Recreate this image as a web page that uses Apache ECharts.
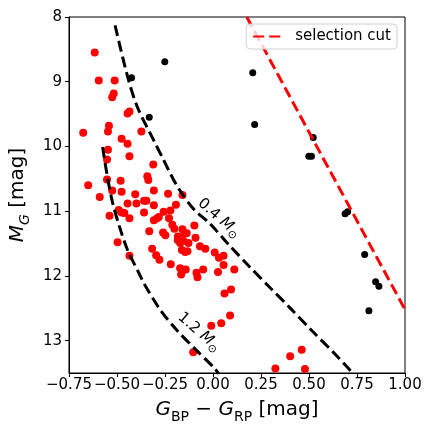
<!DOCTYPE html>
<html>
<head>
<meta charset="utf-8">
<script src="https://cdn.jsdelivr.net/npm/echarts@6/dist/echarts.min.js"></script>
<style>
html, body { margin: 0; padding: 0; background: #fff; }
#chart { width: 432px; height: 432px; }
</style>
</head>
<body>
<div id="chart"></div>
<script>
// stars inside the cut (red)
var redX = [-0.616, -0.595, -0.512, -0.517, -0.525, -0.445, -0.435, -0.542, -0.547, -0.676,
	-0.373, -0.476, -0.445, -0.547, -0.435, -0.552, -0.311, -0.342, -0.337, -0.552,
	-0.481, -0.650, -0.590, -0.525, -0.476, -0.405, -0.308, -0.234, -0.445, -0.399,
	-0.359, -0.347, -0.308, -0.193, -0.159, -0.539, -0.491, -0.476, -0.462, -0.435,
	-0.359, -0.257, -0.222, -0.308, -0.291, -0.282, -0.229, -0.332, -0.260, -0.248,
	-0.212, -0.201, -0.159, -0.149, -0.137, -0.183, -0.183, -0.171, -0.128, -0.154,
	-0.097, -0.091, -0.068, -0.040, -0.162, -0.145, -0.133, -0.497, -0.317, -0.296,
	-0.279, -0.435, -0.220, -0.171, -0.154, -0.142, -0.166, -0.086, -0.081, -0.051,
	0.009, 0.031, 0.055, 0.055, 0.026, 0.111, 0.094, 0.060, 0.089, 0.043,
	-0.009, -0.103, 0.325, 0.402, 0.462, 0.479];
var redY = [8.55, 8.98, 8.98, 9.18, 9.24, 9.49, 9.46, 9.68, 9.77, 9.79,
	9.77, 9.88, 9.96, 10.05, 10.15, 10.20, 10.28, 10.46, 10.52, 10.51,
	10.53, 10.60, 10.78, 10.68, 10.70, 10.74, 10.68, 10.73, 10.88, 10.88,
	10.84, 10.84, 10.91, 10.90, 10.75, 11.07, 10.98, 11.02, 11.03, 11.11,
	11.02, 11.01, 10.99, 11.14, 11.11, 11.09, 11.11, 11.31, 11.33, 11.37,
	11.21, 11.27, 11.28, 11.35, 11.34, 11.39, 11.45, 11.49, 11.49, 11.46,
	11.22, 11.41, 11.54, 11.58, 11.60, 11.63, 11.62, 11.48, 11.58, 11.68,
	11.75, 11.69, 11.82, 11.88, 11.91, 11.90, 11.98, 11.95, 12.02, 11.90,
	11.64, 11.72, 11.69, 11.83, 11.94, 11.90, 12.21, 12.27, 12.61, 12.73,
	12.77, 13.18, 13.43, 13.24, 13.14, 13.44];

// other stars (black)
var blackX = [-0.251, -0.424, -0.332, 0.207, 0.217, 0.522, 0.499, 0.513, 0.688, 0.701, 0.790, 0.847, 0.864, 0.812];
var blackY = [8.69, 8.94, 9.55, 8.86, 9.66, 9.86, 10.15, 10.15, 11.04, 11.01, 11.67, 12.09, 12.16, 12.54];

// isochrone tracks
var iso04X = [-0.510, -0.444, -0.394, -0.308, -0.257, -0.222, -0.179, -0.103, -0.017, 0.086, 0.188, 0.300, 0.400, 0.513, 0.633, 0.715, 0.730];
var iso04Y = [8.13, 8.93, 9.39, 9.91, 10.21, 10.42, 10.65, 10.96, 11.19, 11.53, 11.85, 12.19, 12.49, 12.84, 13.20, 13.46, 13.52];
var iso12X = [-0.575, -0.547, -0.522, -0.487, -0.445, -0.385, -0.359, -0.273, -0.188, -0.086, 0.009, 0.030];
var iso12Y = [10.01, 10.52, 10.88, 11.24, 11.60, 11.96, 12.12, 12.53, 12.84, 13.15, 13.43, 13.52];

// selection cut
var cutX = [0.176, 1.0];
var cutY = [8.0, 12.52];

var xTicks = [-0.75, -0.5, -0.25, 0, 0.25, 0.5, 0.75, 1.0];
var yTicks = [8, 9, 10, 11, 12, 13];

function pairs(xs, ys) {
	return xs.map(function(x, i) { return [x, ys[i]]; });
}

var font = 'DejaVu Sans';
var nameRich = {
	i: { fontSize: 20, fontStyle: 'italic', fontFamily: font, lineHeight: 28, color: '#000' },
	s: { fontSize: 14, fontFamily: font, lineHeight: 14, verticalAlign: 'bottom', color: '#000' },
	si: { fontSize: 14, fontStyle: 'italic', fontFamily: font, lineHeight: 14, verticalAlign: 'bottom', color: '#000' },
	n: { fontSize: 20, fontFamily: font, lineHeight: 28, color: '#000' }
};
var labRich = {
	i: { fontSize: 15, fontStyle: 'italic', fontFamily: font, lineHeight: 20, fill: '#000' },
	s: { fontSize: 11, fontFamily: font, lineHeight: 11, verticalAlign: 'bottom', fill: '#000' },
	n: { fontSize: 15, fontFamily: font, lineHeight: 20, fill: '#000' }
};

var chart = echarts.init(document.getElementById('chart'));
chart.setOption({
	animation: false,
	textStyle: { fontFamily: font },
	grid: {
		left: 64, right: 27, top: 17, bottom: 59,
		show: true, borderColor: '#000', borderWidth: 1
	},
	legend: {
		data: ['selection cut'],
		right: 35, top: 24,
		padding: [5, 6, 5, 6],
		itemWidth: 28, itemHeight: 14,
		itemStyle: { opacity: 0 },
		backgroundColor: 'rgba(255,255,255,0.8)',
		borderColor: '#d0d0d0', borderWidth: 1, borderRadius: 4,
		textStyle: { fontSize: 15, color: '#000', fontFamily: font, padding: [0, 0, 0, 9] }
	},
	xAxis: {
		type: 'value',
		min: -0.75, max: 1.0, interval: 0.25,
		name: '{i|G}{s|BP}{n| − }{i|G}{s|RP}{n| [mag]}',
		nameLocation: 'middle', nameGap: 23,
		nameTextStyle: { rich: nameRich },
		splitLine: { show: false },
		axisLine: { onZero: false, lineStyle: { color: '#000', width: 1 } },
		axisTick: { length: 4, lineStyle: { color: '#000' }, customValues: xTicks },
		axisLabel: {
			fontSize: 15, color: '#000', margin: 5, customValues: xTicks,
			formatter: function(v) { return v.toFixed(2).replace('-', '\u2212'); }
		}
	},
	yAxis: {
		type: 'value',
		inverse: true,
		min: 8, max: 13.5, interval: 1,
		name: '{i|M}{si|G}{n| [mag]}',
		nameLocation: 'middle', nameGap: 29, nameRotate: 90,
		nameTextStyle: { rich: nameRich },
		splitLine: { show: false },
		axisLine: { onZero: false, lineStyle: { color: '#000', width: 1 } },
		axisTick: { length: 4, lineStyle: { color: '#000' }, customValues: yTicks },
		axisLabel: { fontSize: 15, color: '#000', margin: 7, customValues: yTicks }
	},
	series: [
		{
			name: 'inside',
			type: 'scatter',
			data: pairs(redX, redY),
			symbolSize: 8,
			itemStyle: { color: '#ff0000', opacity: 1 }
		},
		{
			name: 'outside',
			type: 'scatter',
			data: pairs(blackX, blackY),
			symbolSize: 7,
			itemStyle: { color: '#000', opacity: 1 }
		},
		{
			name: '0.4',
			type: 'line',
			data: pairs(iso04X, iso04Y),
			smooth: 0.3,
			symbol: 'none',
			clip: true,
			lineStyle: { color: '#000', width: 3, type: [11, 5] }
		},
		{
			name: '1.2',
			type: 'line',
			data: pairs(iso12X, iso12Y),
			smooth: 0.3,
			symbol: 'none',
			clip: true,
			lineStyle: { color: '#000', width: 3, type: [11, 5] }
		},
		{
			name: 'selection cut',
			type: 'line',
			data: pairs(cutX, cutY),
			symbol: 'none',
			clip: true,
			lineStyle: { color: '#ff0000', width: 3, type: [11, 5] },
			itemStyle: { color: '#ff0000' }
		}
	],
	graphic: [
		{
			type: 'text', x: 219, y: 218, rotation: -41 * Math.PI / 180, z: 100,
			style: { text: '{n|0.4 }{i|M}{s|⊙}', rich: labRich, align: 'center', verticalAlign: 'middle', fill: '#000' }
		},
		{
			type: 'text', x: 199, y: 332, rotation: -41 * Math.PI / 180, z: 100,
			style: { text: '{n|1.2 }{i|M}{s|⊙}', rich: labRich, align: 'center', verticalAlign: 'middle', fill: '#000' }
		}
	]
});
</script>
</body>
</html>
